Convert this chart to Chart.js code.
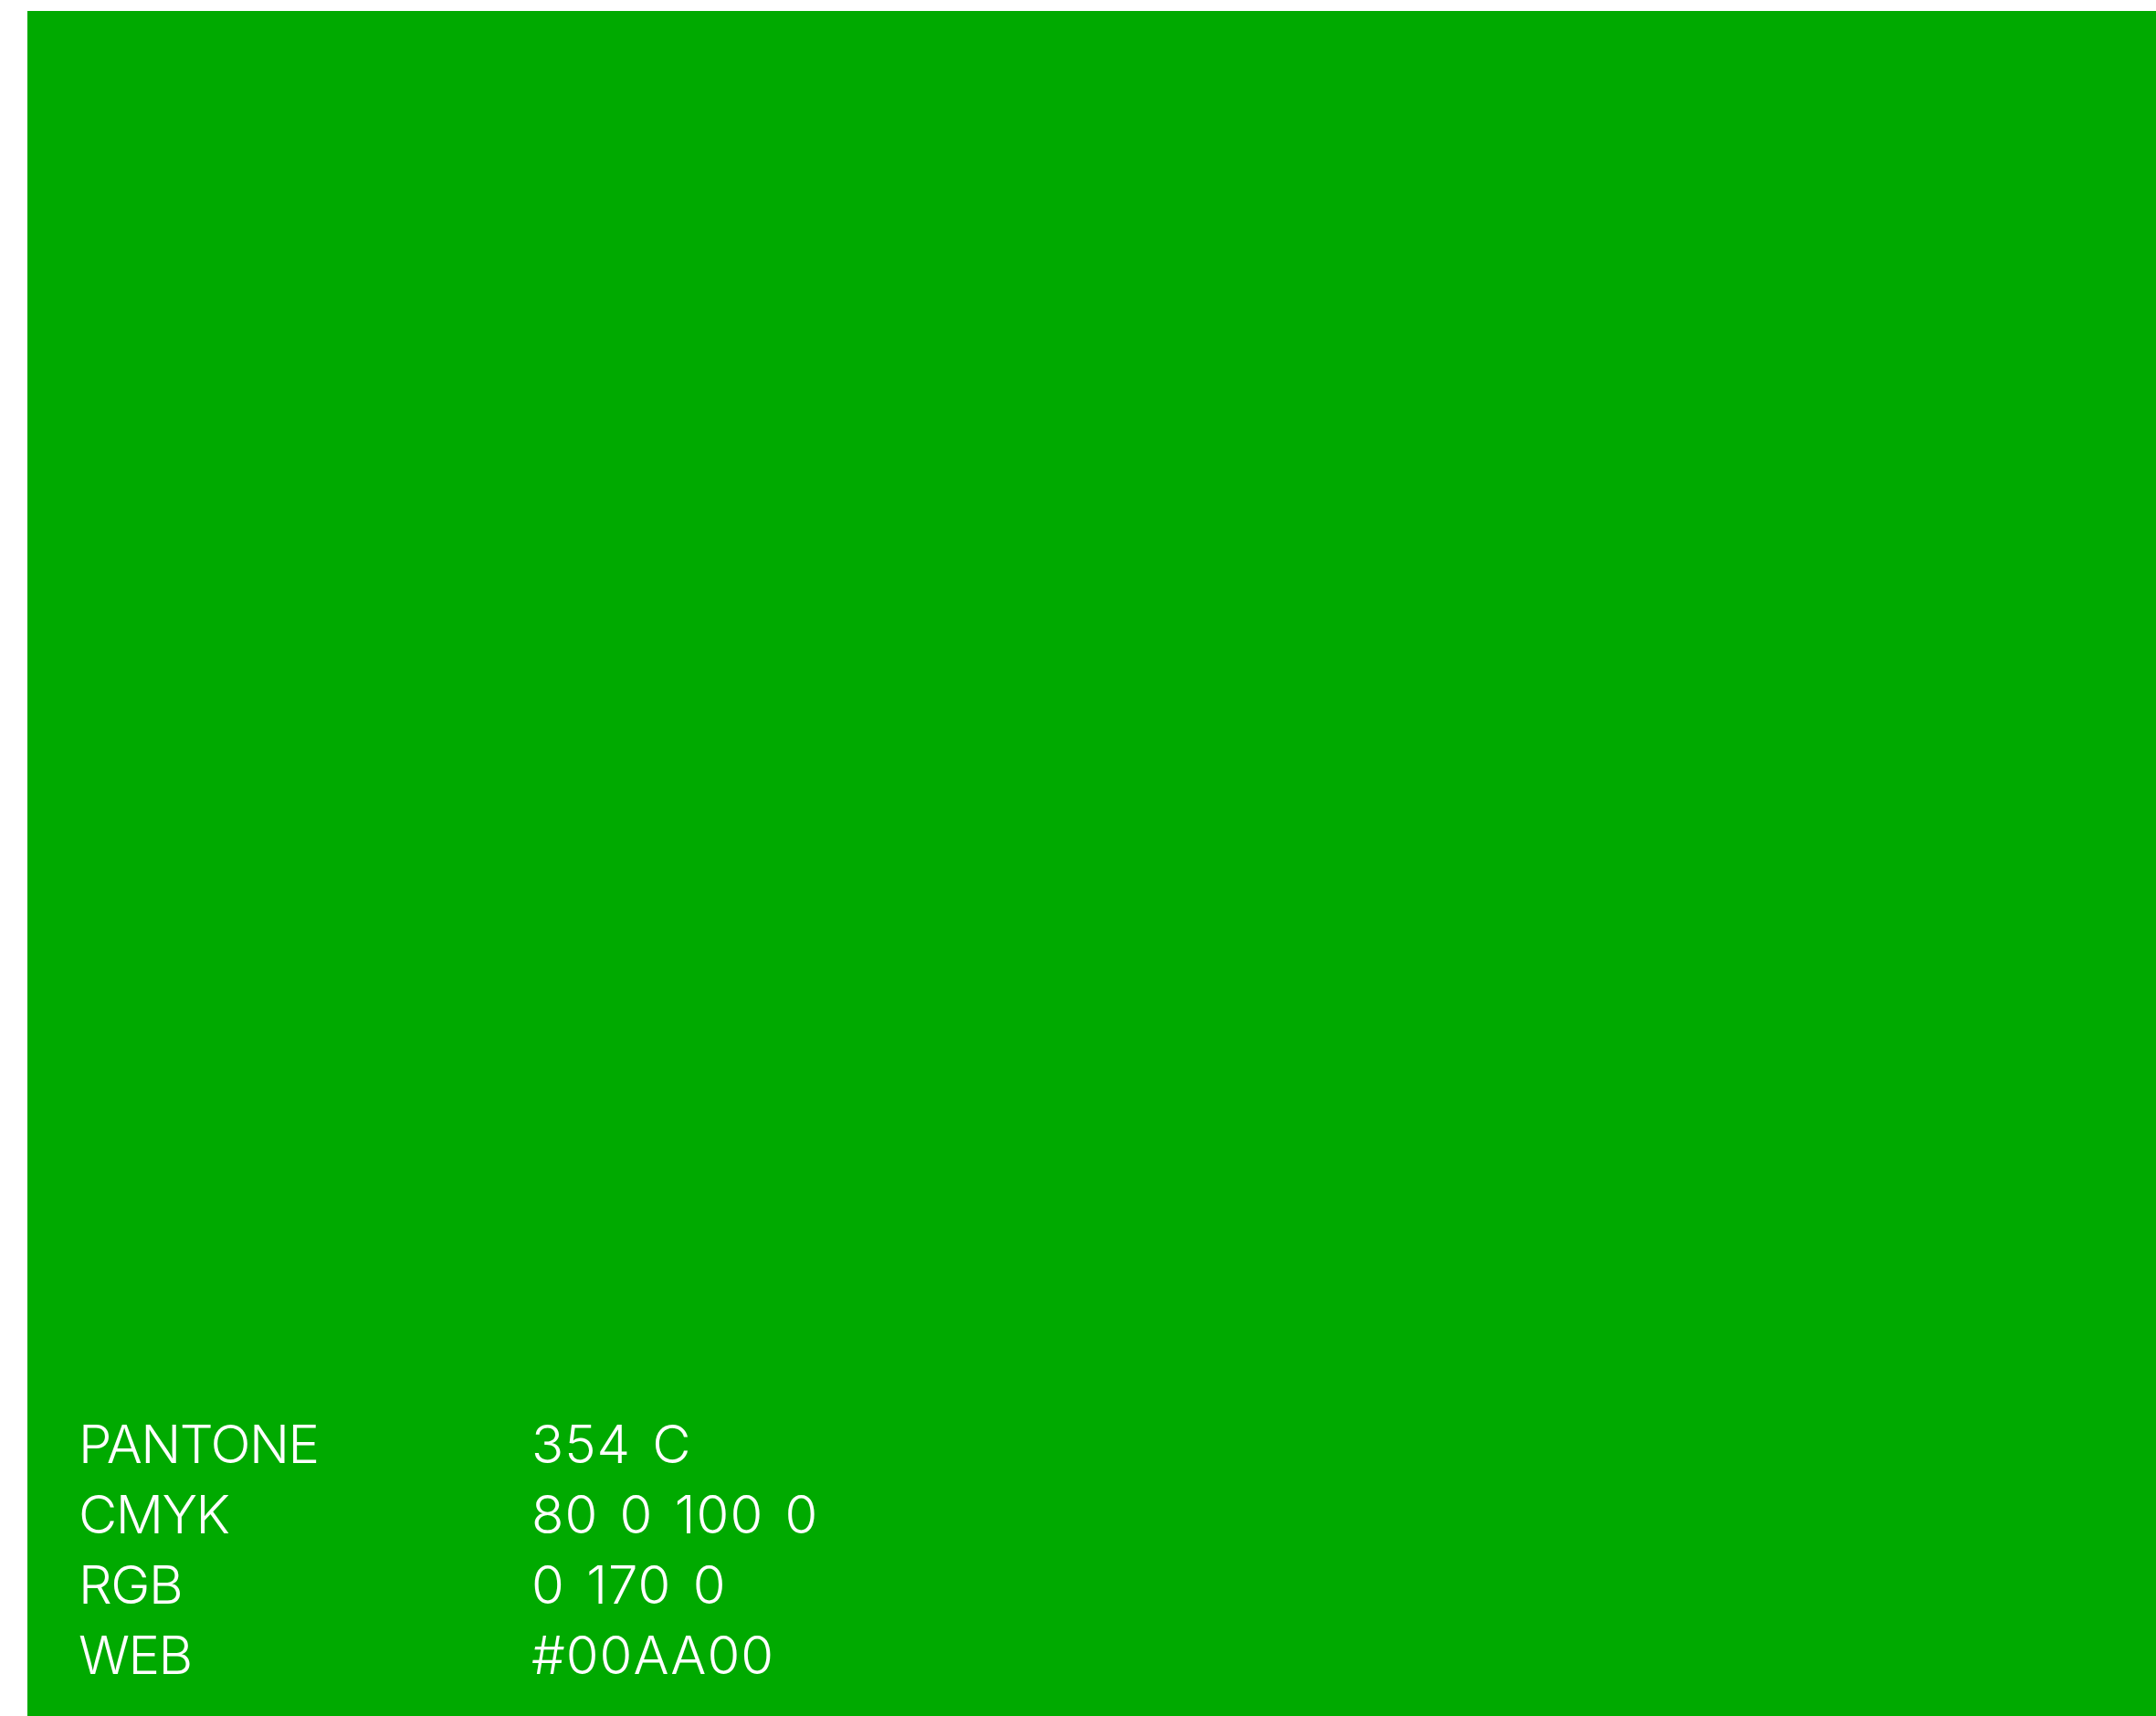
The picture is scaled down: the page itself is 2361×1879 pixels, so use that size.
<!DOCTYPE html>
<html>
<head>
<meta charset="utf-8">
<script src="https://cdn.jsdelivr.net/npm/chart.js@4"></script>
<style>
  html, body { margin: 0; padding: 0; background: #fff; }
  #wrap { width: 2361px; height: 1879px; }
</style>
</head>
<body>
<div id="wrap"><canvas id="swatch"></canvas></div>
<script>
// swatch data
const swatchName = ["354 C"];
const swatchFill = [1];
const swatchColor = "#00AA00";
const specLabels = ["PANTONE", "CMYK", "RGB", "WEB"];
const specValues = ["354 C", "80 0 100 0", "0 170 0", "#00AA00"];

// writes the colour specs on the swatch
const specText = {
  id: "specText",
  afterDatasetsDraw(chart) {
    const ctx = chart.ctx;
    const area = chart.chartArea;
    ctx.save();
    ctx.fillStyle = "#ffffff";
    ctx.font = "300 58px Inter";
    ctx.textBaseline = "alphabetic";
    ctx.textAlign = "left";
    specLabels.forEach((lab, i) => {
      const base = area.bottom - 46 - (specLabels.length - 1 - i) * 77;
      ctx.letterSpacing = "-1.5px";
      ctx.wordSpacing = "0px";
      ctx.fillText(lab, area.left + 56, base);
      ctx.letterSpacing = "1px";
      ctx.wordSpacing = "6px";
      ctx.fillText(specValues[i], area.left + 552, base);
    });
    ctx.restore();
  },
};

const config = {
  type: "bar",
  data: {
    labels: swatchName,
    datasets: [
      {
        data: swatchFill,
        backgroundColor: swatchColor,
        borderWidth: 0,
        categoryPercentage: 1,
        barPercentage: 1,
      },
    ],
  },
  options: {
    responsive: true,
    maintainAspectRatio: false,
    animation: false,
    layout: {
      padding: { left: 30, top: 12, right: 0, bottom: 0 },
    },
    plugins: {
      legend: { display: false },
      tooltip: { enabled: false },
    },
    scales: {
      x: { display: false },
      y: { display: false, min: 0, max: 1 },
    },
  },
  plugins: [specText],
};

new Chart(document.getElementById("swatch"), config);
</script>
</body>
</html>
